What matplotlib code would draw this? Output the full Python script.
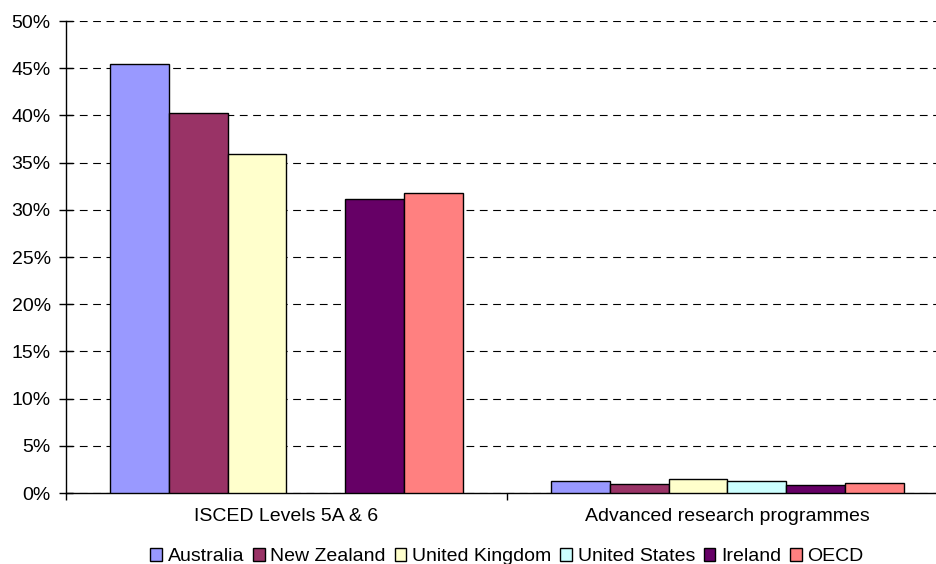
import numpy as np
import matplotlib.pyplot as plt
from matplotlib.ticker import PercentFormatter, MultipleLocator, FixedLocator

plt.rcParams['font.family'] = ['Liberation Sans', 'DejaVu Sans']

categories = ['ISCED Levels 5A & 6', 'Advanced research programmes']
countries = ['Australia', 'New Zealand', 'United Kingdom', 'United States', 'Ireland', 'OECD']
australia = [45.4, 1.3]
new_zealand = [40.25, 0.95]
united_kingdom = [35.9, 1.5]
united_states = [np.nan, 1.3]
ireland = [31.1, 0.8]
oecd = [31.8, 1.1]
colors = ['#9999FF', '#993366', '#FFFFCC', '#CCFFFF', '#660066', '#FF8080']

series = [australia, new_zealand, united_kingdom, united_states, ireland, oecd]

fig = plt.figure(figsize=(9.37, 5.64), dpi=100)
ax = fig.add_axes([66 / 937, 1 - 493 / 564, 882 / 937, 472 / 564])

x = np.arange(len(categories))
w = 1 / 7.5
for i in range(len(series)):
    ax.bar(x + (i - 2.5) * w, series[i], w, color=colors[i], edgecolor='black',
           linewidth=1, label=countries[i], zorder=3)

ax.set_xlim(-0.5, 1.5)
ax.set_ylim(0, 50)
ax.yaxis.set_major_locator(MultipleLocator(5))
ax.yaxis.set_major_formatter(PercentFormatter(decimals=0))
ax.grid(axis='y', color='black', linestyle=(0, (7, 5)), linewidth=0.8, zorder=0)

ax.set_xticks(x)
ax.set_xticklabels(categories)
ax.xaxis.set_minor_locator(FixedLocator([-0.5, 0.5, 1.5]))
ax.tick_params(axis='x', which='major', length=0, pad=11, labelsize=14)
ax.tick_params(axis='x', which='minor', length=5, direction='out', width=1)
ax.tick_params(axis='y', direction='inout', length=10, width=1, labelsize=14, pad=6)

for s in ['top', 'right']:
    ax.spines[s].set_visible(False)
ax.spines['left'].set_linewidth(1)
ax.spines['bottom'].set_linewidth(1)

ax.legend(loc='center', bbox_to_anchor=(0.5, -0.135), ncol=6, frameon=False,
          fontsize=14, handlelength=0.6, handleheight=0.6, handletextpad=0.3,
          columnspacing=0.45, borderaxespad=0)

fig.savefig('out.png', dpi=100)
